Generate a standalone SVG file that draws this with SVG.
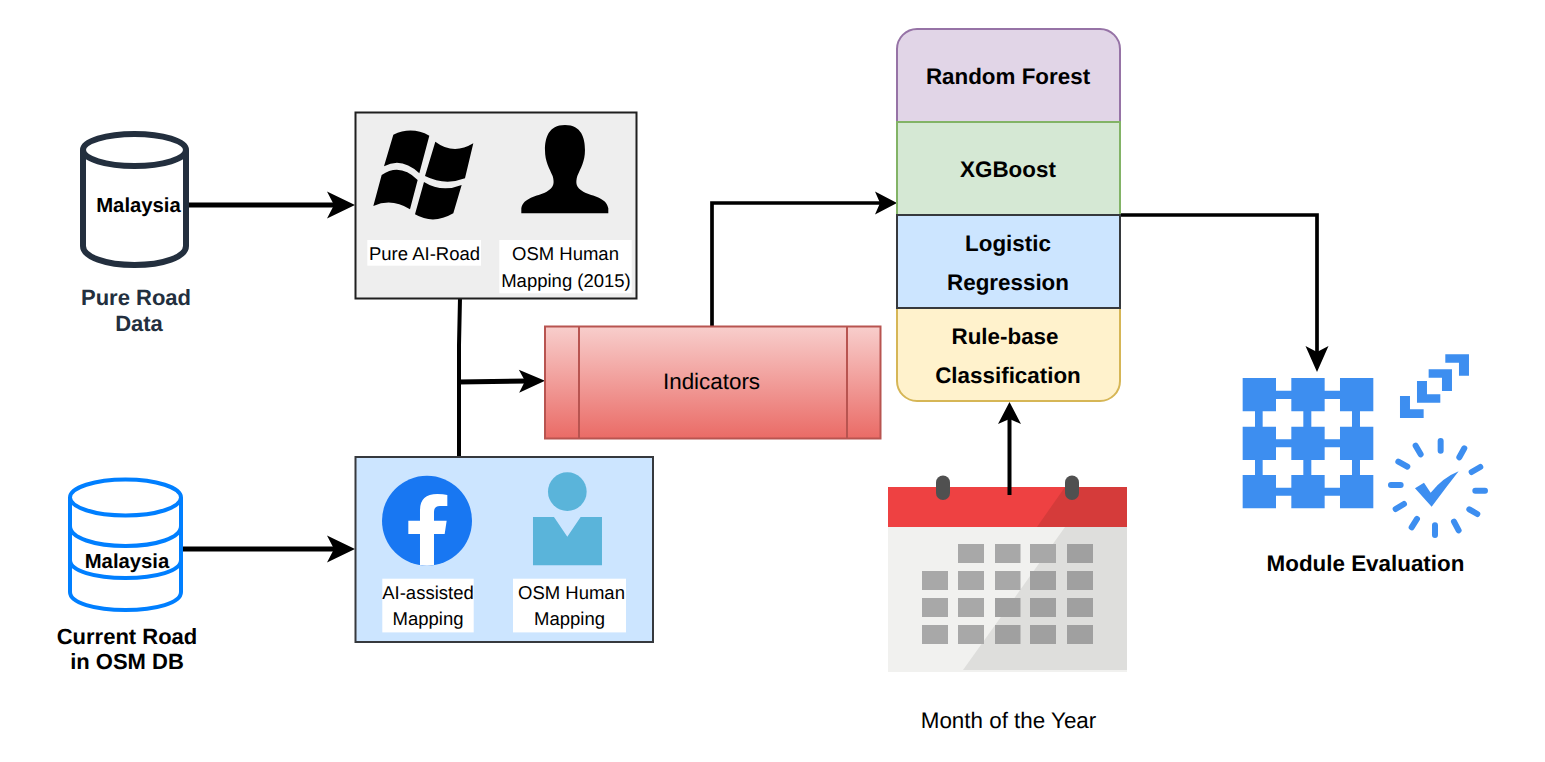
<svg xmlns="http://www.w3.org/2000/svg" width="1545" height="762" viewBox="0 0 1545 762">
<style>
text{font-family:"Liberation Sans",Arial,sans-serif;text-anchor:middle;fill:#000;text-rendering:geometricPrecision}
.b{font-weight:bold;font-size:22px}
.m{font-weight:bold;font-size:20.300px}
.s{font-weight:bold;font-size:22.400px}
.l{font-size:18.500px}
.n{font-size:22.400px}
.c{fill:none;stroke:#000;stroke-linejoin:miter}
.lab{fill:#fff}
.cell{fill:#a8a8a8}
.dk{fill:#a0a0a0}
.blue{fill:#3d8ef0}
.tick{stroke:#3d8ef0;stroke-width:18;stroke-linecap:round;fill:none}
</style>
<defs>
<linearGradient id="red" x1="0" y1="0" x2="0" y2="1"><stop offset="0" stop-color="#f8cecc"/><stop offset="1" stop-color="#ea6b66"/></linearGradient>
<marker id="big" markerUnits="userSpaceOnUse" markerWidth="30" markerHeight="30" refX="10" refY="15" orient="auto"><path d="M1,1.500L29,15L1,28.500L8,15Z" fill="#000"/></marker>
<marker id="mid" markerUnits="userSpaceOnUse" markerWidth="28" markerHeight="26" refX="10" refY="13" orient="auto"><path d="M1,1.500L27,13L1,24.500L7,13Z" fill="#000"/></marker>
<marker id="sm" markerUnits="userSpaceOnUse" markerWidth="24" markerHeight="26" refX="8" refY="13" orient="auto"><path d="M1,1.500L23,13L1,24.500L6,13Z" fill="#000"/></marker>
<filter id="soft" x="-10%" y="-10%" width="120%" height="120%"><feGaussianBlur stdDeviation="0.6"/></filter>
</defs>
<rect width="1545" height="762" fill="#fff"/>
<g id="connectors">
<path class="c" stroke-width="5" d="M189,205H336" marker-end="url(#big)"/>
<path class="c" stroke-width="5" d="M183,549H336" marker-end="url(#big)"/>
<path class="c" stroke-width="4" d="M460,298L459,345V457"/>
<path class="c" stroke-width="5" d="M458,382L528,381" marker-end="url(#mid)"/>
<path class="c" stroke-width="3.700" d="M712,326V203H882" marker-end="url(#sm)"/>
<path class="c" stroke-width="3.700" d="M1120,215H1317V355" marker-end="url(#mid)"/>
</g>
<g id="pure-road-data">
<path d="M83,150V246C83,257 106,265 134.500,265S186,257 186,246V150" fill="#fff" stroke="#232f3e" stroke-width="6"/>
<ellipse cx="134.500" cy="150" rx="51.500" ry="16" fill="#fff" stroke="#232f3e" stroke-width="6"/>
<text class="m" x="138.500" y="212">Malaysia</text>
<text class="b" x="136" y="305" style="fill:#232f3e">Pure Road</text>
<text class="b" x="139" y="331" style="fill:#232f3e">Data</text>
</g>
<g id="current-road">
<path d="M70,497.500V592C70,603 95,610 125.500,610S181,603 181,592V497.500" fill="#fff" stroke="#007fff" stroke-width="4"/>
<ellipse cx="125.500" cy="497.500" rx="55.500" ry="18" fill="#fff" stroke="#007fff" stroke-width="4"/>
<path d="M70,526C70,538 95,546 125.500,546S181,538 181,526M70,560C70,571 95,578 125.500,578S181,571 181,560" fill="none" stroke="#007fff" stroke-width="4"/>
<text class="m" x="127" y="568">Malaysia</text>
<text class="b" x="127" y="644">Current Road</text>
<text class="b" x="127" y="669">in OSM DB</text>
</g>
<g id="box-pure-ai">
<rect x="355.500" y="112.500" width="281" height="186" fill="#eeeeee" stroke="#1f1f1f" stroke-width="2"/>
<g transform="translate(350,100) scale(0.3333)">
<path d="M130,104Q185,78 238,107L208,220Q155,170 102,199Z"/>
<path d="M256,125Q310,166 370,130L345,235Q285,258 225,228Z"/>
<path d="M95,225Q150,188 203,240L180,328Q125,293 70,318Z"/>
<path d="M222,246Q275,279 335,255L310,340Q250,375 195,343Z"/>
<path d="M645,75C595,75 585,115 585,150C585,185 598,205 608,228C614,250 612,262 590,275C560,290 520,292 514,325V340H775V325C770,292 730,290 700,275C678,262 676,250 682,228C692,205 705,185 705,150C705,115 695,75 645,75Z"/>
</g>
<rect class="lab" x="367.300" y="240" width="113.700" height="25.700"/>
<rect class="lab" x="499.300" y="240" width="132.400" height="53.300"/>
<text class="l" x="424.500" y="260">Pure AI-Road</text>
<text class="l" x="565.500" y="260">OSM Human</text>
<text class="l" x="566" y="287">Mapping (2015)</text>
</g>
<g id="box-ai-assisted">
<rect x="355.500" y="457" width="297.500" height="185" fill="#cce5ff" stroke="#36393d" stroke-width="2"/>
<circle cx="427" cy="520.700" r="45" fill="#1877f2"/>
<g transform="translate(350,450) scale(0.3333)">
<path fill="#fff" d="M210,345V252H175V212H210V180Q210,132 262,132Q280,132 292,135V168H270Q252,168 252,186V212H290L284,252H252V345Q231,349 210,345Z"/>
<circle cx="652" cy="125" r="58" fill="#5ab4da"/>
<path fill="#5ab4da" d="M549,201H612L652,260L692,201H756V346H549Z"/>
</g>
<rect class="lab" x="382.300" y="578.700" width="91.400" height="53.700"/>
<rect class="lab" x="513" y="578.700" width="113" height="53.700"/>
<text class="l" x="428" y="599">AI-assisted</text>
<text class="l" x="428" y="625">Mapping</text>
<text class="l" x="571.500" y="599">OSM Human</text>
<text class="l" x="569.500" y="625">Mapping</text>
</g>
<g id="indicators">
<rect x="545" y="326.500" width="335.500" height="112" fill="url(#red)" stroke="#b85450" stroke-width="2"/>
<path d="M579,326.500V438.500M847,326.500V438.500" stroke="#b85450" stroke-width="2" fill="none"/>
<text class="n" x="711.500" y="388.500">Indicators</text>
</g>
<g id="model-stack">
<path d="M897,122V49A20,20 0 0 1 917,29H1100A20,20 0 0 1 1120,49V122Z" fill="#e1d5e7" stroke="#9673a6" stroke-width="2"/>
<rect x="897" y="122" width="223" height="93" fill="#d5e8d4" stroke="#82b366" stroke-width="2"/>
<path d="M897,308V381A20,20 0 0 0 917,401H1100A20,20 0 0 0 1120,381V308Z" fill="#fff2cc" stroke="#d6b656" stroke-width="2"/>
<rect x="897" y="215" width="223" height="93" fill="#cce5ff" stroke="#36393d" stroke-width="2"/>
<text class="s" x="1008" y="84">Random Forest</text>
<text class="s" x="1008" y="177">XGBoost</text>
<text class="s" x="1008" y="251">Logistic</text>
<text class="s" x="1008" y="290">Regression</text>
<text class="s" x="1005" y="344">Rule-base</text>
<text class="s" x="1008" y="383">Classification</text>
</g>
<g id="calendar">
<rect x="888" y="527" width="239" height="145" fill="#f1f1ef"/>
<path d="M1065,527H1127V670H963Z" fill="#dededc"/>
<rect x="888" y="487" width="239" height="40" fill="#ee4142"/>
<path d="M1065,487H1127V527H1037Z" fill="#d53b3a"/>
<g filter="url(#soft)">
<rect class="cell" x="958" y="544" width="26" height="19"/><rect class="cell" x="995" y="544" width="25.500" height="19"/><rect class="cell" x="1030" y="544" width="26" height="19"/><rect class="dk" x="1067" y="544" width="26" height="19"/>
<rect class="cell" x="922" y="571" width="26" height="19"/><rect class="cell" x="958" y="571" width="26" height="19"/><rect class="cell" x="995" y="571" width="25.500" height="19"/><rect class="dk" x="1030" y="571" width="26" height="19"/><rect class="dk" x="1067" y="571" width="26" height="19"/>
<rect class="cell" x="922" y="598" width="26" height="19"/><rect class="cell" x="958" y="598" width="26" height="19"/><rect class="dk" x="995" y="598" width="25.500" height="19"/><rect class="dk" x="1030" y="598" width="26" height="19"/><rect class="dk" x="1067" y="598" width="26" height="19"/>
<rect class="cell" x="922" y="625" width="26" height="19"/><rect class="cell" x="958" y="625" width="26" height="19"/><rect class="dk" x="995" y="625" width="25.500" height="19"/><rect class="dk" x="1030" y="625" width="26" height="19"/><rect class="dk" x="1067" y="625" width="26" height="19"/>
</g>
<rect x="936" y="475.500" width="14" height="24.500" rx="7" fill="#505050"/>
<rect x="1065" y="475.500" width="14" height="24.500" rx="7" fill="#505050"/>
<path class="c" stroke-width="4" d="M1009.500,495V417" marker-end="url(#sm)"/>
<text class="n" x="1008.500" y="728">Month of the Year</text>
</g>
<g id="module-evaluation">
<g transform="translate(1230,340) scale(0.3333)">
<path class="blue" d="M38,114H138V152H184V114H284V152H330V114H430V214H390V260H430V360H390V405H430V505H330V467H284V505H184V467H138V505H38V405H75V360H38V260H75V214H38ZM138,177V214H98V260H138V298H184V260H220V214H184V177ZM284,177V214H244V260H284V298H330V260H366V214H330V177ZM138,322V360H98V405H138V443H184V405H220V360H184V322ZM284,322V360H244V405H284V443H330V405H366V360H330V322Z" fill-rule="evenodd"/>
<path class="blue" d="M510,168H540V208H581V234H510Z"/>
<path class="blue" d="M561,123H591V163H631V188H561Z"/>
<path class="blue" d="M596,88H666V153H636V113H596Z"/>
<path class="blue" d="M646,43H717V107H687V68H646Z"/>
<path class="tick" d="M632,303V332M703,325L688,352M751,381L725,396M765,452H736M742,522L718,508M686,571L672,545M615,585V556M545,562L561,537M497,507L522,492M483,435H512M505,365L532,380M557,317L572,343"/>
<path class="blue" d="M555,445L582,428L602,458Q640,412 686,394L650,440L605,500Z"/>
</g>
<text class="s" x="1365.500" y="571">Module Evaluation</text>
</g>
</svg>
